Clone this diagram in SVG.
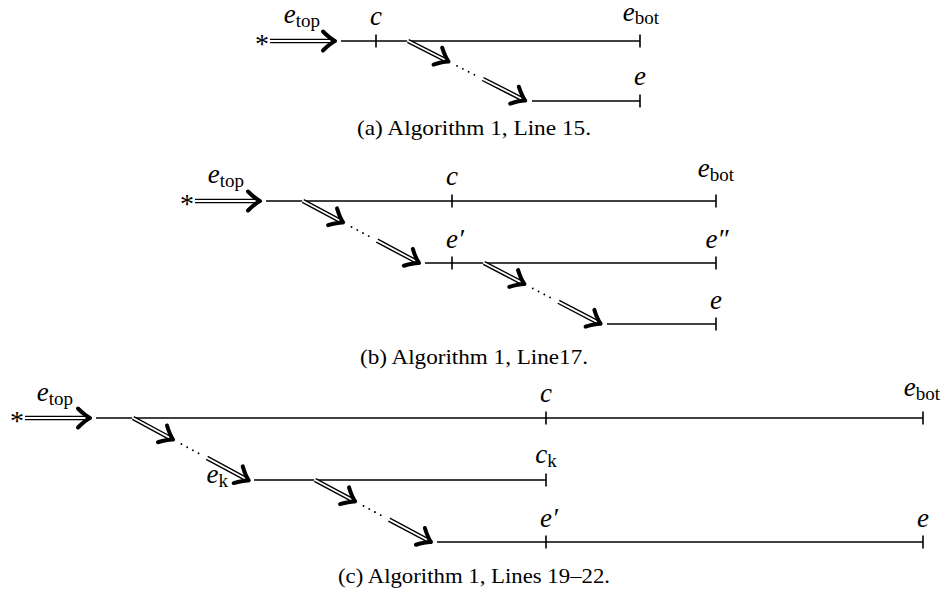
<svg xmlns="http://www.w3.org/2000/svg" xmlns:xlink="http://www.w3.org/1999/xlink" width="949" height="593" viewBox="0 0 949 593">
<style>
.ln{stroke:#000;stroke-width:1.7;fill:none}
.tk{stroke:#000;stroke-width:1.6}
.dbo{stroke:#000;stroke-width:4.6}
.dbi{stroke:#fff;stroke-width:1.8}
.chev{stroke:#000;stroke-width:4;fill:none;stroke-linecap:round;stroke-linejoin:round}
.dots{stroke:#000;stroke-width:1.9;stroke-linecap:round;stroke-dasharray:0 6.5;fill:none}
.m{font-family:"Liberation Serif","DejaVu Serif",serif;font-style:italic;font-size:27px;fill:#000}
.sub{font-style:normal;font-size:19px}
.ast{font-family:"Liberation Serif","DejaVu Serif",serif;font-size:28px;fill:#000}
.cap{font-family:"Liberation Serif","DejaVu Serif",serif;font-size:21px;fill:#000}
</style>
<defs>
<path id="chevron" class="chev" d="M-12,-9.5 Q-5,-2.5 0,0 Q-5,2.5 -12,9.5"/>
<g id="harrow">
<line class="dbo" x1="0" y1="0" x2="63" y2="0"/>
<line class="dbi" x1="-1" y1="0" x2="63" y2="0"/>
<use xlink:href="#chevron" href="#chevron" transform="translate(65,0)"/>
</g>
<g id="darrow">
<line class="dbo" x1="0" y1="0" x2="43" y2="0"/>
<line class="dbi" x1="-1" y1="0" x2="43" y2="0"/>
<use xlink:href="#chevron" href="#chevron" transform="translate(45.5,0)"/>
<line class="dots" x1="55" y1="0" x2="76" y2="0"/>
<line class="dbo" x1="84" y1="0" x2="129" y2="0"/>
<line class="dbi" x1="83" y1="0" x2="129" y2="0"/>
<use xlink:href="#chevron" href="#chevron" transform="translate(131.5,0)"/>
</g>
</defs>
<rect width="949" height="593" fill="#fff"/>

<!-- Panel (a) -->
<g id="a-start"><text class="ast" x="262" y="53" text-anchor="middle">*</text></g>
<g id="a-row1">
<line class="ln" x1="341" y1="41" x2="640" y2="41"/>
<line class="tk" x1="376" y1="34.5" x2="376" y2="47.5"/>
<line class="tk" x1="640" y1="34.5" x2="640" y2="47.5"/>
<text class="m" x="376" y="25" text-anchor="middle">c</text>
<text class="m" x="641" y="21" text-anchor="middle">e<tspan class="sub" dy="3">bot</tspan></text>
</g>
<g id="a-row2">
<line class="ln" x1="532" y1="101" x2="640" y2="101"/>
<line class="tk" x1="640" y1="94.5" x2="640" y2="107.5"/>
<text class="m" x="640" y="85" text-anchor="middle">e</text>
</g>
<g id="a-etop"><text class="m" x="302" y="23" text-anchor="middle">e<tspan class="sub" dy="4">top</tspan></text></g>
<g id="a-caption"><text class="cap" x="474" y="135" text-anchor="middle" textLength="234" lengthAdjust="spacingAndGlyphs">(a) Algorithm 1, Line 15.</text></g>

<!-- Panel (b) -->
<g id="b-start"><text class="ast" x="187" y="213" text-anchor="middle">*</text></g>
<g id="b-row1">
<line class="ln" x1="266" y1="201" x2="716" y2="201"/>
<line class="tk" x1="452" y1="194.5" x2="452" y2="207.5"/>
<line class="tk" x1="716" y1="194.5" x2="716" y2="207.5"/>
<text class="m" x="452" y="185" text-anchor="middle">c</text>
<text class="m" x="716" y="177" text-anchor="middle">e<tspan class="sub" dy="4">bot</tspan></text>
</g>
<g id="b-row2">
<line class="ln" x1="425" y1="263" x2="716" y2="263"/>
<line class="tk" x1="452" y1="256.5" x2="452" y2="269.5"/>
<line class="tk" x1="716" y1="256.5" x2="716" y2="269.5"/>
<text class="m" x="455" y="248" text-anchor="middle">e′</text>
<text class="m" x="717" y="248" text-anchor="middle">e″</text>
</g>
<g id="b-row3">
<line class="ln" x1="607" y1="324" x2="716" y2="324"/>
<line class="tk" x1="716" y1="317.5" x2="716" y2="330.5"/>
<text class="m" x="716" y="309" text-anchor="middle">e</text>
</g>
<g id="b-etop"><text class="m" x="226" y="183" text-anchor="middle">e<tspan class="sub" dy="4">top</tspan></text></g>
<g id="b-caption"><text class="cap" x="474" y="364" text-anchor="middle" textLength="228" lengthAdjust="spacingAndGlyphs">(b) Algorithm 1, Line17.</text></g>

<!-- Panel (c) -->
<g id="c-start"><text class="ast" x="17" y="430" text-anchor="middle">*</text></g>
<g id="c-row1">
<line class="ln" x1="96" y1="418" x2="923" y2="418"/>
<line class="tk" x1="546" y1="411.5" x2="546" y2="424.5"/>
<line class="tk" x1="923" y1="411.5" x2="923" y2="424.5"/>
<text class="m" x="546" y="402" text-anchor="middle">c</text>
<text class="m" x="922" y="396" text-anchor="middle">e<tspan class="sub" dy="4">bot</tspan></text>
</g>
<g id="c-row2">
<line class="ln" x1="254" y1="480" x2="546" y2="480"/>
<line class="tk" x1="546" y1="473.5" x2="546" y2="486.5"/>
<text class="m" x="546" y="463" text-anchor="middle">c<tspan class="sub" font-style="italic" dy="4">k</tspan></text>
<text class="m" x="228" y="483" text-anchor="end">e<tspan class="sub" font-style="italic" dy="4">k</tspan></text>
</g>
<g id="c-row3">
<line class="ln" x1="437" y1="542" x2="923" y2="542"/>
<line class="tk" x1="546" y1="535.5" x2="546" y2="548.5"/>
<line class="tk" x1="923" y1="535.5" x2="923" y2="548.5"/>
<text class="m" x="549" y="527" text-anchor="middle">e′</text>
<text class="m" x="923" y="527" text-anchor="middle">e</text>
</g>
<g id="c-etop"><text class="m" x="55" y="401" text-anchor="middle">e<tspan class="sub" dy="4">top</tspan></text></g>
<g id="c-caption"><text class="cap" x="474" y="583" text-anchor="middle" textLength="272" lengthAdjust="spacingAndGlyphs">(c) Algorithm 1, Lines 19–22.</text></g>

<!-- Connectors -->
<g id="connectors">
<use xlink:href="#harrow" href="#harrow" transform="translate(270,41)"/>
<use xlink:href="#darrow" href="#darrow" transform="translate(408,41) rotate(26.95)"/>
<use xlink:href="#harrow" href="#harrow" transform="translate(195,201)"/>
<use xlink:href="#darrow" href="#darrow" transform="translate(303,201) rotate(28.13)"/>
<use xlink:href="#darrow" href="#darrow" transform="translate(484,263) rotate(27.53)"/>
<use xlink:href="#harrow" href="#harrow" transform="translate(25,418)"/>
<use xlink:href="#darrow" href="#darrow" transform="translate(133,418) rotate(28.33)"/>
<use xlink:href="#darrow" href="#darrow" transform="translate(315,480) rotate(28.13)"/>
</g>
</svg>
